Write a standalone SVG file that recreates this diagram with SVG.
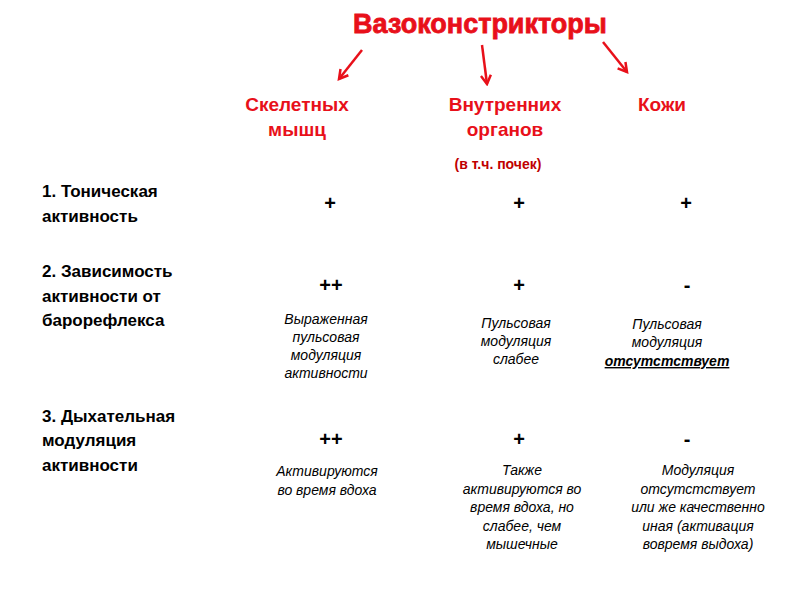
<svg xmlns="http://www.w3.org/2000/svg" width="800" height="600" viewBox="0 0 800 600">
<style>
.t{font-family:"Liberation Sans",Arial,sans-serif;}
.red{fill:#e8101a;font-weight:bold;font-size:19px;text-anchor:middle}
.sub{fill:#c00000;font-weight:bold;font-size:14px;text-anchor:middle}
.row{fill:#000;font-weight:bold;font-size:17px}
.mk{fill:#000;font-weight:bold;font-size:20px;text-anchor:middle}
.it{fill:#000;font-style:italic;font-size:14px;text-anchor:middle}
.ar{stroke:#e8101a;stroke-width:2.5;fill:none}
</style>
<defs><marker id="a" viewBox="0 0 10 10" refX="8" refY="5" markerWidth="5" markerHeight="5" orient="auto"><path d="M1,1 L8,5 L1,9" stroke="#e8101a" stroke-width="2" fill="none"/></marker></defs>
<rect width="800" height="600" fill="#fff"/>
<g id="title"><text class="t" x="480" y="33" fill="#e8101a" font-size="27" font-weight="bold" text-anchor="middle" stroke="#e8101a" stroke-width="0.8">Вазоконстрикторы</text></g>
<g id="connectors">
<line class="ar" x1="362" y1="50" x2="339" y2="79" marker-end="url(#a)"/>
<line class="ar" x1="482" y1="45" x2="487" y2="84" marker-end="url(#a)"/>
<line class="ar" x1="603" y1="42" x2="627" y2="72" marker-end="url(#a)"/>
</g>
<g id="col1"><text class="t red" x="297" y="111">Скелетных</text><text class="t red" x="297" y="136">мышц</text></g>
<g id="col2"><text class="t red" x="505" y="111">Внутренних</text><text class="t red" x="505" y="136">органов</text><text class="t sub" x="498" y="169">(в т.ч. почек)</text></g>
<g id="col3"><text class="t red" x="662" y="111">Кожи</text></g>
<g id="row1"><text class="t row" x="42" y="197">1. Тоническая</text><text class="t row" x="42" y="222">активность</text>
<text class="t mk" x="330" y="210">+</text><text class="t mk" x="519" y="210">+</text><text class="t mk" x="686" y="210">+</text></g>
<g id="row2"><text class="t row" x="42" y="277">2. Зависимость</text><text class="t row" x="42" y="302">активности  от</text><text class="t row" x="42" y="326">барорефлекса</text>
<text class="t mk" x="331" y="292">++</text><text class="t mk" x="519" y="292">+</text><text class="t mk" x="687" y="292">-</text>
<text class="t it" x="326" y="324">Выраженная</text><text class="t it" x="326" y="342">пульсовая</text><text class="t it" x="326" y="360">модуляция</text><text class="t it" x="326" y="378">активности</text>
<text class="t it" x="516" y="328">Пульсовая</text><text class="t it" x="516" y="346">модуляция</text><text class="t it" x="516" y="364">слабее</text>
<text class="t it" x="667" y="329">Пульсовая</text><text class="t it" x="667" y="347">модуляция</text><text class="t it" x="667" y="366" font-weight="bold" text-decoration="underline">отсутстствует</text></g>
<g id="row3"><text class="t row" x="42" y="422">3. Дыхательная</text><text class="t row" x="42" y="446">модуляция</text><text class="t row" x="42" y="471">активности</text>
<text class="t mk" x="331" y="446">++</text><text class="t mk" x="519" y="446">+</text><text class="t mk" x="687" y="446">-</text>
<text class="t it" x="327" y="476">Активируются</text><text class="t it" x="327" y="495">во время вдоха</text>
<text class="t it" x="522" y="475">Также</text><text class="t it" x="522" y="494">активируются во</text><text class="t it" x="522" y="512">время вдоха, но</text><text class="t it" x="522" y="531">слабее, чем</text><text class="t it" x="522" y="549">мышечные</text>
<text class="t it" x="698" y="475">Модуляция</text><text class="t it" x="698" y="494">отсутстствует</text><text class="t it" x="698" y="512">или же качественно</text><text class="t it" x="698" y="531">иная (активация</text><text class="t it" x="698" y="549">вовремя выдоха)</text></g>
</svg>
